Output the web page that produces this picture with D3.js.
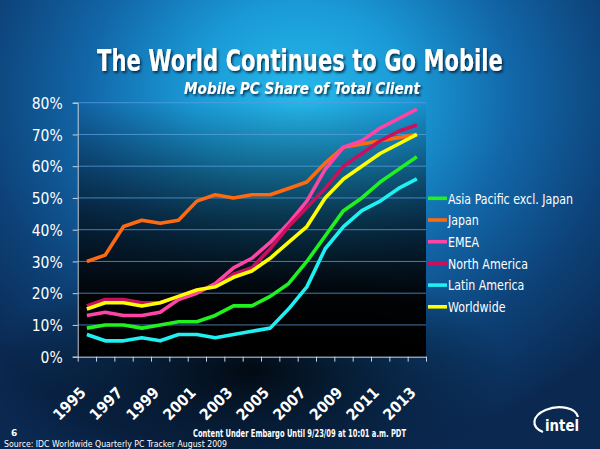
<!DOCTYPE html>
<html><head><meta charset="utf-8">
<script src="https://cdn.jsdelivr.net/npm/d3@7"></script>
<style>html,body{margin:0;padding:0;background:#0b2d57;}svg{display:block}</style>
</head><body><svg id="c" width="600" height="449"></svg>
<script>
const years = d3.range(1995, 2014).map(String);
const yearLabels = ["1995","1997","1999","2001","2003","2005","2007","2009","2011","2013"];
const yTicks = [0,10,20,30,40,50,60,70,80];
const seriesNames = ["Asia Pacific excl. Japan","Japan","EMEA","North America","Latin America","Worldwide"];
const seriesColors = ["#1ff21f","#ff6a10","#ff44a6","#c8105c","#1ff0f2","#ffff00"];
const asiaPacific  = [9,10,10,9,10,11,11,13,16,16,19,23,30,38,46,50,55,59,63];
const japan        = [30,32,41,43,42,43,49,51,50,51,51,53,55,61,66,67,68,69,70];
const emea         = [13,14,13,13,14,18,20,23,28,31,36,42,49,59,66,68,72,75,78];
const northAmerica = [16,18,18,17,17,19,21,22,26,28,34,41,47,53,60,64,68,71,73];
const latinAmerica = [7,5,5,6,5,7,7,6,7,8,9,15,22,34,41,46,49,53,56];
const worldwide    = [15,17,17,16,17,19,21,22,25,27,31,36,41,50,56,60,64,67,70];
const seriesValues = [asiaPacific, japan, emea, northAmerica, latinAmerica, worldwide];

const svg = d3.select("#c");
const W = 600, H = 449;
const L = 77.7, R = 426, T = 102.7, B = 356.7;
const defs = svg.append("defs");

// background gradients
const bg = defs.append("radialGradient").attr("id","bg").attr("gradientUnits","userSpaceOnUse")
  .attr("cx",300).attr("cy",95).attr("r",430).attr("fx",300).attr("fy",95)
  .attr("gradientTransform","translate(300,95) scale(1,0.85) translate(-300,-95)");
[[0,"#26b9ec"],[0.25,"#1a9ad6"],[0.5,"#1266a8"],[0.75,"#0d4177"],[1,"#0a2850"]].forEach(s=>bg.append("stop").attr("offset",s[0]).attr("stop-color",s[1]));
svg.append("rect").attr("width",W).attr("height",H).attr("fill","url(#bg)");

const dark = defs.append("radialGradient").attr("id","dark").attr("gradientUnits","userSpaceOnUse")
  .attr("cx",250).attr("cy",370).attr("r",260)
  .attr("gradientTransform","translate(250,370) scale(1,0.45) translate(-250,-370)");
dark.append("stop").attr("offset",0).attr("stop-color","#000").attr("stop-opacity",0.85);
dark.append("stop").attr("offset",1).attr("stop-color","#000").attr("stop-opacity",0);
svg.append("rect").attr("width",W).attr("height",H).attr("fill","url(#dark)");

const pg = defs.append("linearGradient").attr("id","plotbg").attr("x1",0).attr("y1",0).attr("x2",0).attr("y2",1);
pg.append("stop").attr("offset",0).attr("stop-color","#000").attr("stop-opacity",0);
pg.append("stop").attr("offset",0.45).attr("stop-color","#000").attr("stop-opacity",0.6);
pg.append("stop").attr("offset",0.8).attr("stop-color","#000").attr("stop-opacity",0.97);
pg.append("stop").attr("offset",1).attr("stop-color","#000").attr("stop-opacity",1);

const sh = defs.append("filter").attr("id","shadow").attr("filterUnits","userSpaceOnUse")
  .attr("x",-1000).attr("y",-1000).attr("width",3000).attr("height",3000);
sh.append("feDropShadow").attr("dx",1.5).attr("dy",2).attr("stdDeviation",1.2).attr("flood-color","#001530").attr("flood-opacity",0.8);

const x = d3.scaleBand().domain(years).range([L, R]).padding(0);
const xb = d3.scaleLinear().domain([0, years.length]).range([L, R]);
const y = d3.scaleLinear().domain([0, 80]).range([B, T]);
const cx = d => x(d) + x.bandwidth()/2;

svg.append("rect").attr("x",L).attr("y",T-2).attr("width",R-L).attr("height",B-T+2).attr("fill","url(#plotbg)");

// grid
svg.append("g").selectAll("line").data(yTicks.filter(d=>d>0)).join("line")
  .attr("x1",L).attr("x2",R).attr("y1",d=>y(d)).attr("y2",d=>y(d))
  .attr("stroke","#5a9fe0").attr("stroke-opacity",0.75).attr("stroke-width",1);

const af = "'DejaVu Sans Condensed','DejaVu Sans',sans-serif";
// y axis
const ya = svg.append("g").attr("transform",`translate(${L},0)`)
  .call(d3.axisLeft(y).tickValues(yTicks).tickFormat(d=>d+"%").tickSize(5).tickPadding(10));
ya.select(".domain").attr("stroke","#c9d3de").attr("stroke-width",1);
ya.selectAll(".tick line").attr("stroke","#c9d3de");
ya.selectAll("text").attr("fill","#fff").attr("font-family",af)
  .attr("font-size",15.5).attr("dy","0.36em");

// x axis ticks at boundaries
const xa = svg.append("g").attr("transform",`translate(0,${B})`)
  .call(d3.axisBottom(xb).tickValues(d3.range(0, years.length+1)).tickFormat("").tickSize(5).tickSizeOuter(0));
xa.select(".domain").attr("stroke","#c9d3de");
xa.selectAll(".tick line").attr("stroke","#c9d3de");

// x labels
const xl = svg.append("g").attr("transform",`translate(0,${B})`)
  .call(d3.axisBottom(x).tickValues(yearLabels).tickSize(0).tickPadding(0));
xl.select(".domain").remove();
xl.selectAll("text").attr("fill","#fff").attr("font-family",af)
  .attr("font-weight","bold").attr("font-size",15.5)
  .attr("text-anchor","end").attr("dy",0).attr("y",0)
  .attr("transform","translate(0,37) rotate(-45)");

// lines
const line = d3.line().x((d,i)=>cx(years[i])).y(d=>y(d));
svg.append("g").selectAll("path").data(seriesValues).join("path")
  .attr("d", d=>line(d)).attr("fill","none")
  .attr("stroke",(d,i)=>seriesColors[i]).attr("stroke-width",3.6)
  .attr("stroke-linejoin","round").attr("stroke-linecap","butt");

// legend
const lg = svg.append("g").attr("transform","translate(428,198.3)");
const li = lg.selectAll("g").data(seriesNames).join("g").attr("transform",(d,i)=>`translate(0,${i*21.7})`);
li.append("line").attr("x1",0).attr("x2",19).attr("stroke",(d,i)=>seriesColors[i]).attr("stroke-width",3.6);
li.append("text").attr("x",20).attr("dy","0.36em").text(d=>d).attr("fill","#fff")
  .attr("font-family",af).attr("font-size",14.5);
const firstLen = li.select("text").node().getComputedTextLength();
const kk = 125 / firstLen;
li.selectAll("text").each(function(){ const t=this.getComputedTextLength(); d3.select(this).attr("textLength", t*kk).attr("lengthAdjust","spacingAndGlyphs"); });

// titles: natural text, horizontally scaled by a group transform to the reference width
const titles = [
  {t:"The World Continues to Go Mobile", x:300, y:71, fs:30, len:406, it:"normal"},
  {t:"Mobile PC Share of Total Client", x:302, y:94, fs:16.5, len:236, it:"italic"}
];
titles.forEach(o=>{
  const g = svg.append("g").attr("filter","url(#shadow)");
  const tx = g.append("text").attr("x",0).attr("y",0).attr("text-anchor","middle").attr("fill","#fff")
    .attr("font-family",af).attr("font-weight","bold").attr("font-style",o.it).attr("font-size",o.fs).text(o.t);
  const k = o.len / tx.node().getComputedTextLength();
  tx.attr("transform",`translate(${o.x},${o.y}) scale(${k},1)`);
});

// footer
svg.append("text").attr("x",11).attr("y",436).attr("fill","#fff").attr("font-family","'DejaVu Sans',sans-serif")
  .attr("font-size",9).attr("font-weight","bold").text("6");
svg.append("text").attr("x",193).attr("y",437).attr("fill","#fff").attr("font-family",af)
  .attr("font-size",10).attr("font-weight","bold").attr("textLength",213).attr("lengthAdjust","spacingAndGlyphs")
  .text("Content Under Embargo Until 9/23/09 at 10:01 a.m. PDT");
svg.append("text").attr("x",4).attr("y",446.5).attr("fill","#fff").attr("font-family","'DejaVu Sans',sans-serif")
  .attr("font-size",9).attr("textLength",223).attr("lengthAdjust","spacingAndGlyphs")
  .text("Source: IDC Worldwide Quarterly PC Tracker August 2009");

// intel logo
const logo = svg.append("g").attr("transform","translate(562,426)");
logo.append("path").attr("d","M -19 6 A 22 13 -8 1 1 16 -9").attr("fill","none").attr("stroke","#fff").attr("stroke-width",2.2);
logo.append("text").attr("x",0).attr("y",5).attr("text-anchor","middle").attr("fill","#fff")
  .attr("font-family","'DejaVu Sans','Open Sans',sans-serif").attr("font-weight","bold").attr("font-size",16)
  .attr("textLength",34).attr("lengthAdjust","spacingAndGlyphs").text("intel");
</script></body></html>
